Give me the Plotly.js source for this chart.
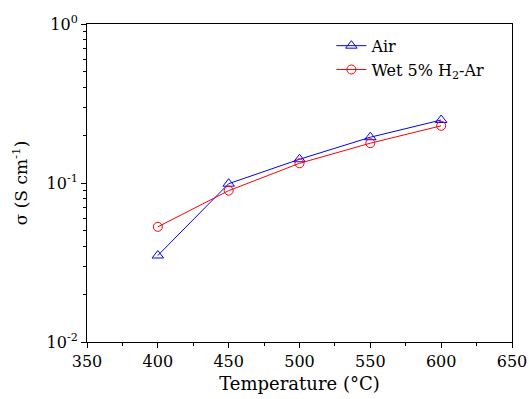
<!DOCTYPE html>
<html>
<head>
<meta charset="utf-8">
<script src="https://cdn.plot.ly/plotly-3.0.1.min.js"></script>
<style>html,body{margin:0;padding:0;background:#fff;}#chart{width:529px;height:399px;}</style>
</head>
<body>
<div id="chart"></div>
<script>
const temperature = [400, 450, 500, 550, 600];
const sigmaAir = [0.035, 0.099, 0.141, 0.194, 0.249];
const sigmaWetH2Ar = [0.053, 0.0895, 0.133, 0.178, 0.229];
const seriesNames = ['Air', 'Wet 5% H<sub>2</sub>-Ar'];
const yTickVals = [0.01, 0.1, 1];
const yTickText = ['10<sup>-2</sup>', '10<sup>-1</sup>', '10<sup>0</sup>'];
const xTickVals = [350, 400, 450, 500, 550, 600, 650];

const font = 'DejaVu Serif, serif';
const traces = [
  {x: temperature, y: sigmaAir, name: seriesNames[0], mode: 'lines+markers', type: 'scatter',
   line: {color: '#0000ff', width: 1}, marker: {symbol: 'triangle-up-open', size: 10, color: '#0000ff', line: {width: 1}}},
  {x: temperature, y: sigmaWetH2Ar, name: seriesNames[1], mode: 'lines+markers', type: 'scatter',
   line: {color: '#ff0000', width: 1}, marker: {symbol: 'circle-open', size: 9, color: '#ff0000', line: {width: 1}}}
];
const layout = {
  width: 529, height: 399,
  margin: {l: 87, r: 17, t: 24, b: 57},
  paper_bgcolor: '#fff', plot_bgcolor: '#fff',
  font: {family: font, color: '#000', size: 16},
  showlegend: true,
  legend: {x: 0.575, y: 0.985, xanchor: 'left', yanchor: 'top', bgcolor: 'rgba(0,0,0,0)', font: {size: 16}, tracegroupgap: 0},
  xaxis: {range: [350, 650], tickvals: xTickVals, ticks: 'outside', ticklen: 5, tickwidth: 1, tickcolor: '#000',
    showline: true, linecolor: '#000', linewidth: 1, mirror: true, showgrid: false, zeroline: false,
    tickfont: {size: 16}, title: {text: 'Temperature (°C)', font: {size: 18}, standoff: 7},
    minor: {ticks: 'outside', ticklen: 3, dtick: 25, tickcolor: '#000', showgrid: false}},
  yaxis: {type: 'log', range: [-2, 0], tickvals: yTickVals, ticktext: yTickText, ticks: 'outside', ticklen: 5, tickwidth: 1, tickcolor: '#000',
    showline: true, linecolor: '#000', linewidth: 1, mirror: true, showgrid: false, zeroline: false,
    tickfont: {size: 16}, title: {text: 'σ (S cm<sup>-1</sup>)', font: {size: 17}, standoff: 14},
    minor: {ticks: 'outside', ticklen: 3, dtick: 'D1', tickcolor: '#000', showgrid: false}}
};
Plotly.newPlot('chart', traces, layout, {displayModeBar: false, staticPlot: true});
</script>
</body>
</html>
